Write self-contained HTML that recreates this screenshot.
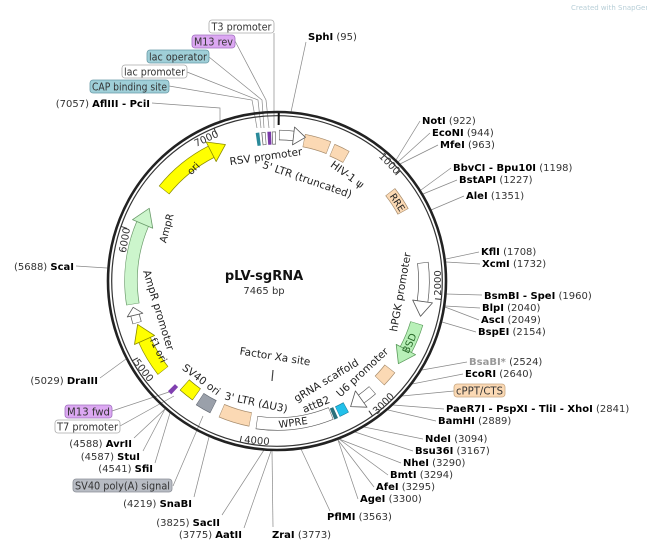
<!DOCTYPE html>
<html><head><meta charset="utf-8"><style>
html,body{margin:0;padding:0;background:#fff;}
svg{display:block;font-family:"DejaVu Sans","Liberation Sans",sans-serif;}
.e{font-size:10px;fill:#333;}
.b{font-weight:bold;fill:#000;}
.f{font-size:10.5px;fill:#222;}
.l{stroke:#888;stroke-width:0.7;fill:none;}
</style></head><body>
<svg width="647" height="547" viewBox="0 0 647 547" xmlns="http://www.w3.org/2000/svg">
<text x="571" y="10" font-size="7" fill="#b8cfd8">Created with SnapGene®</text>

<!-- leader lines -->
<g class="l">
<polyline points="152,103 220,108 220,121"/>
<polyline points="274,33 274,128"/>
<polyline points="235,41 266,100 269,128"/>
<polyline points="209,57 262,100 264,128"/>
<polyline points="187,72 258,100 261,128"/>
<polyline points="169,86 252,100 257,128"/>
<line x1="306" y1="42" x2="291" y2="112"/>
<line x1="420" y1="121" x2="396" y2="160"/>
<line x1="430" y1="133" x2="398" y2="162"/>
<line x1="438" y1="145" x2="400" y2="164"/>
<line x1="451" y1="168" x2="421" y2="190"/>
<line x1="457" y1="180" x2="423" y2="194"/>
<line x1="464" y1="196" x2="431" y2="210"/>
<line x1="479" y1="252" x2="446" y2="259"/>
<line x1="480" y1="264" x2="446" y2="262"/>
<line x1="482" y1="295" x2="446" y2="294"/>
<line x1="480" y1="308" x2="445" y2="306"/>
<line x1="479" y1="320" x2="445" y2="307"/>
<line x1="476" y1="332" x2="442" y2="322"/>
<line x1="467" y1="362" x2="422" y2="370"/>
<line x1="463" y1="374" x2="412" y2="384"/>
<line x1="454" y1="391" x2="402" y2="396"/>
<line x1="444" y1="409" x2="393" y2="405"/>
<line x1="436" y1="421" x2="388" y2="410"/>
<line x1="423" y1="439" x2="364" y2="427"/>
<line x1="413" y1="451" x2="355" y2="432"/>
<line x1="401" y1="463" x2="339" y2="439"/>
<line x1="388" y1="475" x2="339" y2="439"/>
<line x1="374" y1="487" x2="338" y2="440"/>
<line x1="358" y1="499" x2="338" y2="440"/>
<line x1="330" y1="511" x2="301" y2="449"/>
<line x1="273" y1="527" x2="272" y2="451"/>
<line x1="244" y1="528" x2="271" y2="451"/>
<line x1="222" y1="515" x2="264" y2="450"/>
<line x1="194" y1="497" x2="209" y2="437"/>
<line x1="173" y1="486" x2="203" y2="416"/>
<line x1="155" y1="463" x2="170" y2="413"/>
<line x1="143" y1="451" x2="165" y2="409"/>
<line x1="134" y1="438" x2="165" y2="409"/>
<line x1="120" y1="426" x2="174" y2="396"/>
<line x1="112" y1="411" x2="172" y2="391"/>
<line x1="100" y1="378" x2="126" y2="359"/>
<line x1="76" y1="266" x2="107" y2="268"/>
<line x1="273" y1="370" x2="272" y2="381" stroke="#444" stroke-width="1.2"/>
</g>

<!-- ring -->
<circle cx="277" cy="281" r="169" fill="none" stroke="#222" stroke-width="2.6"/>
<circle cx="277" cy="281" r="165.3" fill="none" stroke="#333" stroke-width="1.2"/>
<g stroke="#333" stroke-width="1">
<line x1="277" y1="116" x2="277" y2="122" transform="rotate(48.2 277 281)"/>
<line x1="277" y1="116" x2="277" y2="122" transform="rotate(96.4 277 281)"/>
<line x1="277" y1="116" x2="277" y2="122" transform="rotate(144.7 277 281)"/>
<line x1="277" y1="116" x2="277" y2="122" transform="rotate(192.9 277 281)"/>
<line x1="277" y1="116" x2="277" y2="122" transform="rotate(241.1 277 281)"/>
<line x1="277" y1="116" x2="277" y2="122" transform="rotate(289.3 277 281)"/>
<line x1="277" y1="116" x2="277" y2="122" transform="rotate(337.6 277 281)"/>
</g>
<line x1="277" y1="113" x2="277" y2="125" stroke="#111" stroke-width="2" transform="rotate(0.6 277 281)"/>

<!-- features -->
<g fill="none">
<circle cx="277" cy="281" r="145" stroke="#8a8a00" stroke-width="13.4" stroke-dasharray="61.7 3000" transform="rotate(218.8 277 281)"/>
<circle cx="277" cy="281" r="145" stroke="#ffff00" stroke-width="12" stroke-dasharray="60.7 3000" transform="rotate(219 277 281)"/>
<circle cx="277" cy="281" r="146" stroke="#6a9a6a" stroke-width="13.4" stroke-dasharray="82.5 3000" transform="rotate(170.8 277 281)"/>
<circle cx="277" cy="281" r="146" stroke="#ccf5cc" stroke-width="12" stroke-dasharray="81.5 3000" transform="rotate(171 277 281)"/>
<circle cx="277" cy="281" r="146" stroke="#555" stroke-width="9.4" stroke-dasharray="8.6 3000" transform="rotate(163.3 277 281)"/>
<circle cx="277" cy="281" r="146" stroke="#fff" stroke-width="8" stroke-dasharray="7.6 3000" transform="rotate(163.5 277 281)"/>
<circle cx="277" cy="281" r="145" stroke="#8a8a00" stroke-width="13.4" stroke-dasharray="36.4 3000" transform="rotate(141.8 277 281)"/>
<circle cx="277" cy="281" r="145" stroke="#ffff00" stroke-width="12" stroke-dasharray="35.4 3000" transform="rotate(142 277 281)"/>
<circle cx="277" cy="281" r="139" stroke="#777700" stroke-width="14.4" stroke-dasharray="15.6 3000" transform="rotate(125.3 277 281)"/>
<circle cx="277" cy="281" r="139" stroke="#ffff00" stroke-width="13" stroke-dasharray="14.6 3000" transform="rotate(125.5 277 281)"/>
<circle cx="277" cy="281" r="141" stroke="#606670" stroke-width="14.4" stroke-dasharray="15.8 3000" transform="rotate(116.8 277 281)"/>
<circle cx="277" cy="281" r="141" stroke="#9aa0aa" stroke-width="13" stroke-dasharray="14.8 3000" transform="rotate(117 277 281)"/>
<circle cx="277" cy="281" r="150" stroke="#8040b0" stroke-width="10" stroke-dasharray="4.5 3000" transform="rotate(133 277 281)"/>
<circle cx="277" cy="281" r="141" stroke="#a58a6a" stroke-width="14.4" stroke-dasharray="30.5 3000" transform="rotate(100.8 277 281)"/>
<circle cx="277" cy="281" r="141" stroke="#fbd9b4" stroke-width="13" stroke-dasharray="29.5 3000" transform="rotate(101 277 281)"/>
<circle cx="277" cy="281" r="143" stroke="#555" stroke-width="13.2" stroke-dasharray="75.9 3000" transform="rotate(67.8 277 281)"/>
<circle cx="277" cy="281" r="143" stroke="#fff" stroke-width="12" stroke-dasharray="74.9 3000" transform="rotate(68 277 281)"/>
<circle cx="277" cy="281" r="144" stroke="#2a6f7a" stroke-width="12" stroke-dasharray="3.8 3000" transform="rotate(66 277 281)"/>
<circle cx="277" cy="281" r="144" stroke="#1a80a0" stroke-width="11.4" stroke-dasharray="9.8 3000" transform="rotate(61.3 277 281)"/>
<circle cx="277" cy="281" r="144" stroke="#22c0ea" stroke-width="10" stroke-dasharray="8.8 3000" transform="rotate(61.5 277 281)"/>
<circle cx="277" cy="281" r="145" stroke="#555" stroke-width="10.4" stroke-dasharray="14.9 3000" transform="rotate(48.8 277 281)"/>
<circle cx="277" cy="281" r="145" stroke="#fff" stroke-width="9" stroke-dasharray="13.9 3000" transform="rotate(49 277 281)"/>
<circle cx="277" cy="281" r="143" stroke="#a58a6a" stroke-width="13.4" stroke-dasharray="16 3000" transform="rotate(37.8 277 281)"/>
<circle cx="277" cy="281" r="143" stroke="#fbd9b4" stroke-width="12" stroke-dasharray="15 3000" transform="rotate(38 277 281)"/>
<circle cx="277" cy="281" r="146" stroke="#5a9a5a" stroke-width="13.4" stroke-dasharray="29 3000" transform="rotate(16.8 277 281)"/>
<circle cx="277" cy="281" r="146" stroke="#b8f0b8" stroke-width="12" stroke-dasharray="28 3000" transform="rotate(17 277 281)"/>
<circle cx="277" cy="281" r="147" stroke="#555" stroke-width="11.4" stroke-dasharray="39.5 3000" transform="rotate(-7.2 277 281)"/>
<circle cx="277" cy="281" r="147" stroke="#fff" stroke-width="10" stroke-dasharray="38.5 3000" transform="rotate(-7 277 281)"/>
<circle cx="277" cy="281" r="144" stroke="#a58a6a" stroke-width="12.4" stroke-dasharray="23.6 3000" transform="rotate(-38.2 277 281)"/>
<circle cx="277" cy="281" r="144" stroke="#fbd9b4" stroke-width="11" stroke-dasharray="22.6 3000" transform="rotate(-38 277 281)"/>
<circle cx="277" cy="281" r="142" stroke="#a58a6a" stroke-width="13.4" stroke-dasharray="15.9 3000" transform="rotate(-67.2 277 281)"/>
<circle cx="277" cy="281" r="142" stroke="#fbd9b4" stroke-width="12" stroke-dasharray="14.9 3000" transform="rotate(-67 277 281)"/>
<circle cx="277" cy="281" r="143" stroke="#a58a6a" stroke-width="13.4" stroke-dasharray="26 3000" transform="rotate(-79.2 277 281)"/>
<circle cx="277" cy="281" r="143" stroke="#fbd9b4" stroke-width="12" stroke-dasharray="25 3000" transform="rotate(-79 277 281)"/>
<circle cx="277" cy="281" r="146" stroke="#555" stroke-width="10.4" stroke-dasharray="15 3000" transform="rotate(-89.2 277 281)"/>
<circle cx="277" cy="281" r="146" stroke="#fff" stroke-width="9" stroke-dasharray="14 3000" transform="rotate(-89 277 281)"/>
<circle cx="277" cy="281" r="143" stroke="#2a8a9a" stroke-width="13" stroke-dasharray="3.5 3000" transform="rotate(261.8 277 281)"/>
<circle cx="277" cy="281" r="143" stroke="#666" stroke-width="13" stroke-dasharray="4 3000" transform="rotate(264 277 281)"/>
<circle cx="277" cy="281" r="143" stroke="#fff" stroke-width="11.6" stroke-dasharray="2.6 3000" transform="rotate(264.3 277 281)"/>
<circle cx="277" cy="281" r="143" stroke="#7a3aa8" stroke-width="13" stroke-dasharray="3.5 3000" transform="rotate(266.3 277 281)"/>
<circle cx="277" cy="281" r="143" stroke="#666" stroke-width="13" stroke-dasharray="4 3000" transform="rotate(268 277 281)"/>
<circle cx="277" cy="281" r="143" stroke="#fff" stroke-width="11.6" stroke-dasharray="2.6 3000" transform="rotate(268.3 277 281)"/>
</g>
<g stroke-width="0.8" stroke-linejoin="round">
<polygon points="277,125 277,147 293,136" fill="#ffff00" stroke="#8a8a00" transform="rotate(333 277 281)"/>
<polygon points="277,124 277,146 294,135" fill="#ccf5cc" stroke="#6a9a6a" transform="rotate(293 277 281)"/>
<polygon points="277,127 277,143 285,135" fill="#fff" stroke="#555" transform="rotate(256.5 277 281)"/>
<polygon points="277,125 277,147 294,136" fill="#ffff00" stroke="#8a8a00" transform="rotate(246 277 281)"/>
<polygon points="277,126 277,146 290,136" fill="#fff" stroke="#555" transform="rotate(144.5 277 281)"/>
<polygon points="277,124 277,146 293,135" fill="#b8f0b8" stroke="#5a9a5a" transform="rotate(118 277 281)"/>
<polygon points="277,124 277,144 292,134" fill="#fff" stroke="#555" transform="rotate(98 277 281)"/>
<polygon points="277,126 277,144 289,135" fill="#fff" stroke="#555" transform="rotate(6.5 277 281)"/>
</g>

<!-- feature labels -->
<g class="f">
<text x="266" y="160" text-anchor="middle" transform="rotate(-8 266 157)">RSV promoter</text>
<text x="307" y="183" text-anchor="middle" transform="rotate(19 307 180)">5' LTR (truncated)</text>
<text x="347" y="178" text-anchor="middle" transform="rotate(36 347 175)">HIV-1 ψ</text>
<text x="398" y="206" text-anchor="middle" font-size="9.5" transform="rotate(57 398 202)">RRE</text>
<text x="193" y="172" text-anchor="middle" font-size="10" transform="rotate(-45 193 168)">ori</text>
<text x="166" y="232" text-anchor="middle" font-size="10" transform="rotate(-75 166 228)">AmpR</text>
<text x="159" y="314" text-anchor="middle" transform="rotate(73 159 310)">AmpR promoter</text>
<text x="159" y="354" text-anchor="middle" font-size="10" transform="rotate(64 159 350)">f1 ori</text>
<text x="201" y="383" text-anchor="middle" transform="rotate(37 201 380)">SV40 ori</text>
<text x="256" y="406" text-anchor="middle" transform="rotate(12 256 403)">3' LTR (ΔU3)</text>
<text x="293" y="426" text-anchor="middle" font-size="10" transform="rotate(-8 293 422)">WPRE</text>
<text x="316" y="408" text-anchor="middle" transform="rotate(-22 316 404)">attB2</text>
<text x="326" y="384" text-anchor="middle" transform="rotate(-31 326 380)">gRNA scaffold</text>
<text x="362" y="376" text-anchor="middle" transform="rotate(-43 362 372)">U6 promoter</text>
<text x="400" y="296" text-anchor="middle" transform="rotate(-80 400 292)">hPGK promoter</text>
<text x="409" y="347" text-anchor="middle" font-size="10" fill="#2a6a2a" transform="rotate(-66 409 343)">BSD</text>
<text x="275" y="360" text-anchor="middle" transform="rotate(9 275 357)">Factor Xa site</text>
</g>
<g font-size="10" fill="#333" text-anchor="middle">
<text x="390" y="167" transform="rotate(46 390 163)">1000</text>
<text x="437" y="287" transform="rotate(-90 437 283)">2000</text>
<text x="383" y="407" transform="rotate(-45 383 403)">3000</text>
<text x="257" y="444" transform="rotate(5 257 440)">4000</text>
<text x="144" y="374" transform="rotate(52 144 370)">5000</text>
<text x="124" y="244" transform="rotate(-80 124 240)">6000</text>
<text x="206" y="142" transform="rotate(-25 206 138)">7000</text>
</g>

<text x="264" y="280" text-anchor="middle" font-size="13" font-weight="bold" fill="#111">pLV-sgRNA</text>
<text x="264" y="294" text-anchor="middle" font-size="10" fill="#333">7465 bp</text>

<!-- boxed labels -->
<g font-size="10.5">
<rect x="209" y="20" width="65" height="13" rx="3" fill="#fff" stroke="#aaa" stroke-width="0.8"/><text x="241.5" y="30.5" text-anchor="middle" fill="#333" textLength="60" lengthAdjust="spacingAndGlyphs">T3 promoter</text>
<rect x="192" y="35" width="43" height="13" rx="3" fill="#dca8f2" stroke="#a070c0" stroke-width="0.8"/><text x="213.5" y="45.5" text-anchor="middle" fill="#333" textLength="39" lengthAdjust="spacingAndGlyphs">M13 rev</text>
<rect x="147" y="50" width="62" height="13" rx="3" fill="#9fcfd8" stroke="#6a9aa6" stroke-width="0.8"/><text x="178" y="60.5" text-anchor="middle" fill="#333" textLength="58" lengthAdjust="spacingAndGlyphs">lac operator</text>
<rect x="122" y="65" width="65" height="13" rx="3" fill="#fff" stroke="#aaa" stroke-width="0.8"/><text x="154.5" y="75.5" text-anchor="middle" fill="#333" textLength="61" lengthAdjust="spacingAndGlyphs">lac promoter</text>
<rect x="90" y="80" width="79" height="13" rx="3" fill="#9fcfd8" stroke="#6a9aa6" stroke-width="0.8"/><text x="129.5" y="90.5" text-anchor="middle" fill="#333" textLength="75" lengthAdjust="spacingAndGlyphs">CAP binding site</text>
<rect x="454" y="384" width="51" height="13" rx="3" fill="#fbd9b4" stroke="#c8a882" stroke-width="0.8"/><text x="479.5" y="394.5" text-anchor="middle" fill="#333" textLength="47" lengthAdjust="spacingAndGlyphs">cPPT/CTS</text>
<rect x="65" y="405" width="47" height="13" rx="3" fill="#dca8f2" stroke="#a070c0" stroke-width="0.8"/><text x="88.5" y="415.5" text-anchor="middle" fill="#333" textLength="43" lengthAdjust="spacingAndGlyphs">M13 fwd</text>
<rect x="55" y="420" width="65" height="13" rx="3" fill="#fff" stroke="#aaa" stroke-width="0.8"/><text x="87.5" y="430.5" text-anchor="middle" fill="#333" textLength="61" lengthAdjust="spacingAndGlyphs">T7 promoter</text>
<rect x="73" y="479" width="99" height="13" rx="3" fill="#b8bcc4" stroke="#8a8e96" stroke-width="0.8"/><text x="122.5" y="489.5" text-anchor="middle" fill="#333" textLength="95" lengthAdjust="spacingAndGlyphs">SV40 poly(A) signal</text>
</g>

<g class="e">
<text x="150" y="107" text-anchor="end">(7057)  <tspan class="b">AflIII - PciI</tspan></text>
<text x="308" y="40"><tspan class="b">SphI</tspan>  (95)</text>
<text x="422" y="124"><tspan class="b">NotI</tspan>  (922)</text>
<text x="432" y="136"><tspan class="b">EcoNI</tspan>  (944)</text>
<text x="440" y="148"><tspan class="b">MfeI</tspan>  (963)</text>
<text x="453" y="171"><tspan class="b">BbvCI - Bpu10I</tspan>  (1198)</text>
<text x="459" y="183"><tspan class="b">BstAPI</tspan>  (1227)</text>
<text x="466" y="199"><tspan class="b">AleI</tspan>  (1351)</text>
<text x="481" y="255"><tspan class="b">KflI</tspan>  (1708)</text>
<text x="482" y="267"><tspan class="b">XcmI</tspan>  (1732)</text>
<text x="484" y="299"><tspan class="b">BsmBI - SpeI</tspan>  (1960)</text>
<text x="482" y="311"><tspan class="b">BlpI</tspan>  (2040)</text>
<text x="481" y="323"><tspan class="b">AscI</tspan>  (2049)</text>
<text x="478" y="335"><tspan class="b">BspEI</tspan>  (2154)</text>
<text x="469" y="365"><tspan font-weight="bold" fill="#999">BsaBI*</tspan>  (2524)</text>
<text x="465" y="377"><tspan class="b">EcoRI</tspan>  (2640)</text>
<text x="446" y="412"><tspan class="b">PaeR7I - PspXI - TliI - XhoI</tspan>  (2841)</text>
<text x="438" y="424"><tspan class="b">BamHI</tspan>  (2889)</text>
<text x="425" y="442"><tspan class="b">NdeI</tspan>  (3094)</text>
<text x="415" y="454"><tspan class="b">Bsu36I</tspan>  (3167)</text>
<text x="403" y="466"><tspan class="b">NheI</tspan>  (3290)</text>
<text x="390" y="478"><tspan class="b">BmtI</tspan>  (3294)</text>
<text x="376" y="490"><tspan class="b">AfeI</tspan>  (3295)</text>
<text x="360" y="502"><tspan class="b">AgeI</tspan>  (3300)</text>
<text x="327" y="520"><tspan class="b">PflMI</tspan>  (3563)</text>
<text x="272" y="538"><tspan class="b">ZraI</tspan>  (3773)</text>
<text x="242" y="538" text-anchor="end">(3775)  <tspan class="b">AatII</tspan></text>
<text x="220" y="526" text-anchor="end">(3825)  <tspan class="b">SacII</tspan></text>
<text x="192" y="507" text-anchor="end">(4219)  <tspan class="b">SnaBI</tspan></text>
<text x="153" y="472" text-anchor="end">(4541)  <tspan class="b">SfiI</tspan></text>
<text x="140" y="460" text-anchor="end">(4587)  <tspan class="b">StuI</tspan></text>
<text x="132" y="447" text-anchor="end">(4588)  <tspan class="b">AvrII</tspan></text>
<text x="98" y="384" text-anchor="end">(5029)  <tspan class="b">DraIII</tspan></text>
<text x="74" y="270" text-anchor="end">(5688)  <tspan class="b">ScaI</tspan></text>
</g>
</svg>
</body></html>
